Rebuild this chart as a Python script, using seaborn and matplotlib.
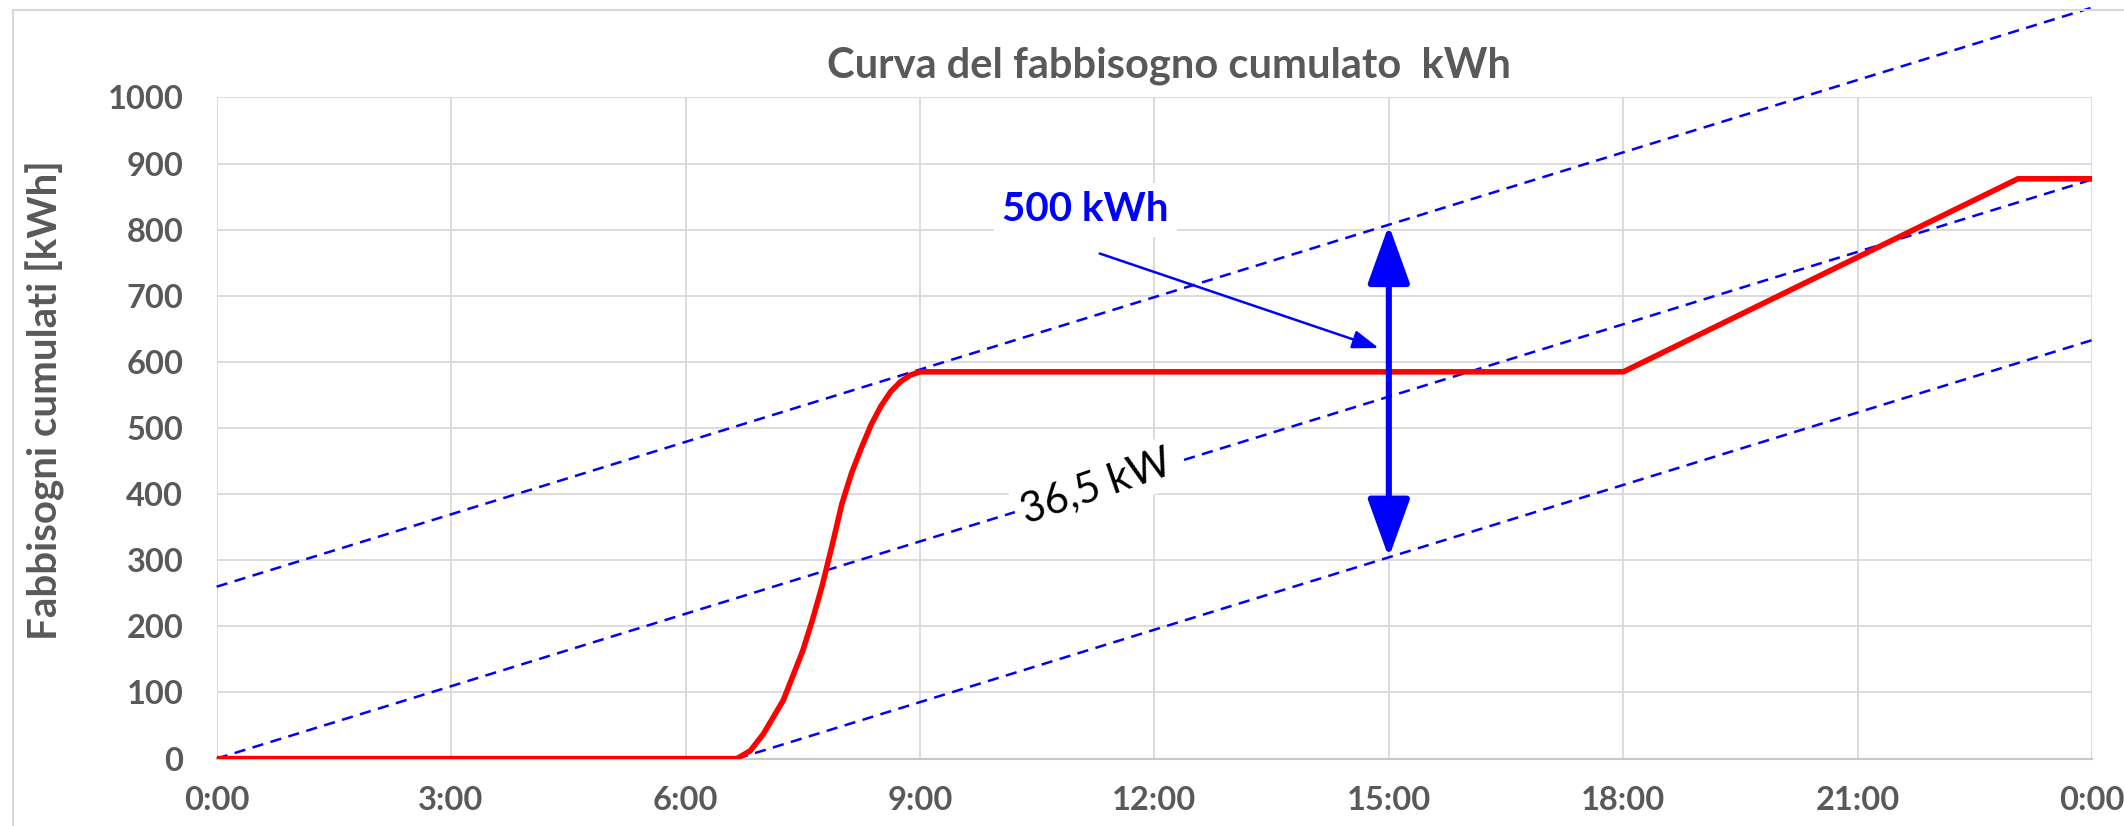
import numpy as np
import pandas as pd
import seaborn as sns
import matplotlib.pyplot as plt
from matplotlib.patches import Rectangle

# cumulated demand curve (hours, kWh)
hours = [0, 6.66, 6.83, 7.0, 7.25, 7.5, 7.625, 7.75, 7.875, 8.0, 8.125,
         8.25, 8.375, 8.5, 8.625, 8.75, 8.875, 9.0, 18.0, 23.05, 24.0]
demand = [0, 0, 12, 38, 88, 163, 210, 262, 322, 385, 432,
          470, 505, 533, 555, 570, 580, 585, 585, 877, 877]

# 36,5 kW reference lines (end points)
upper_x = [0, 24]
upper_y = [260, 1136]
mid_x = [0, 24]
mid_y = [0, 876]
low_x = [6.66, 24]
low_y = [0, 633]

# vertical 500 kWh gap at 15:00
gap_x = 15
gap_top = 807
gap_bottom = 304

x_ticks = [0, 3, 6, 9, 12, 15, 18, 21, 24]
x_labels = ['0:00', '3:00', '6:00', '9:00', '12:00', '15:00', '18:00', '21:00', '0:00']
y_ticks = list(range(0, 1001, 100))

sns.set_style('white')
plt.rcParams['font.family'] = ['Lato', 'DejaVu Sans']

gray = '#595959'
grid = '#d9d9d9'

fig = plt.figure(figsize=(21.24, 8.26), dpi=100)
ax = fig.add_axes([0.102, 0.0816, 0.883, 0.8004])

df = pd.DataFrame({'ora': hours, 'kWh': demand})
sns.lineplot(data=df, x='ora', y='kWh', color='red', lw=4, ax=ax, zorder=3)

for xs, ys in [(upper_x, upper_y), (mid_x, mid_y), (low_x, low_y)]:
    ax.plot(xs, ys, color='blue', lw=1.8, ls=(0, (4.5, 3)), clip_on=False, zorder=2)

ax.set_xlim(0, 24)
ax.set_ylim(0, 1000)
ax.set_xticks(x_ticks)
ax.set_xticklabels(x_labels)
ax.set_yticks(y_ticks)
ax.tick_params(length=0, labelsize=23.5, colors=gray)
ax.tick_params(axis='x', pad=20)
ax.tick_params(axis='y', pad=24)
for lab in ax.get_xticklabels() + ax.get_yticklabels():
    lab.set_fontweight('bold')
ax.grid(True, color=grid, lw=1.3)
ax.set_axisbelow(True)
for s in ['top', 'right', 'left']:
    ax.spines[s].set_visible(False)
ax.spines['bottom'].set_color('#c8c8c8')
ax.spines['bottom'].set_linewidth(1.5)
ax.set_xlabel('')
ax.set_ylabel('')

# double arrow
ax.annotate('', xy=(gap_x, gap_top), xytext=(gap_x, gap_bottom),
            arrowprops=dict(arrowstyle='<|-|>,head_length=1.8,head_width=0.65',
                            color='blue', lw=4.4, mutation_scale=20,
                            shrinkA=0, shrinkB=0), zorder=4)

# 500 kWh label with pointer
ax.annotate('', xy=(14.87, 621), xytext=(11.3, 764),
            arrowprops=dict(arrowstyle='-|>,head_length=0.8,head_width=0.28',
                            color='blue', lw=1.8, mutation_scale=20,
                            shrinkA=0, shrinkB=0), zorder=4)
ax.text(11.12, 830, '500 kWh', color='blue', fontsize=29, fontweight='bold',
        ha='center', va='center', zorder=5,
        bbox=dict(facecolor='white', edgecolor='none', pad=6))

ax.text(11.26, 411, '36,5 kW', color='black', fontsize=30, rotation=19,
        rotation_mode='anchor', ha='center', va='center', zorder=5,
        bbox=dict(facecolor='white', edgecolor='none', pad=5))

fig.text(0.5504, 0.9056, 'Curva del fabbisogno cumulato  kWh', color=gray,
         fontsize=30, fontweight='bold', ha='center', va='baseline')
fig.text(0.0213, 0.516, 'Fabbisogni cumulati [kWh]', color=gray, fontsize=29,
         fontweight='bold', rotation=90, ha='center', va='center')

# chart frame
fig.add_artist(Rectangle((13 / 2124, -0.05), 1.1, 0.9879 + 0.05,
                         transform=fig.transFigure, fill=False,
                         edgecolor=grid, lw=1.5))

fig.savefig('out.png', dpi=100)
